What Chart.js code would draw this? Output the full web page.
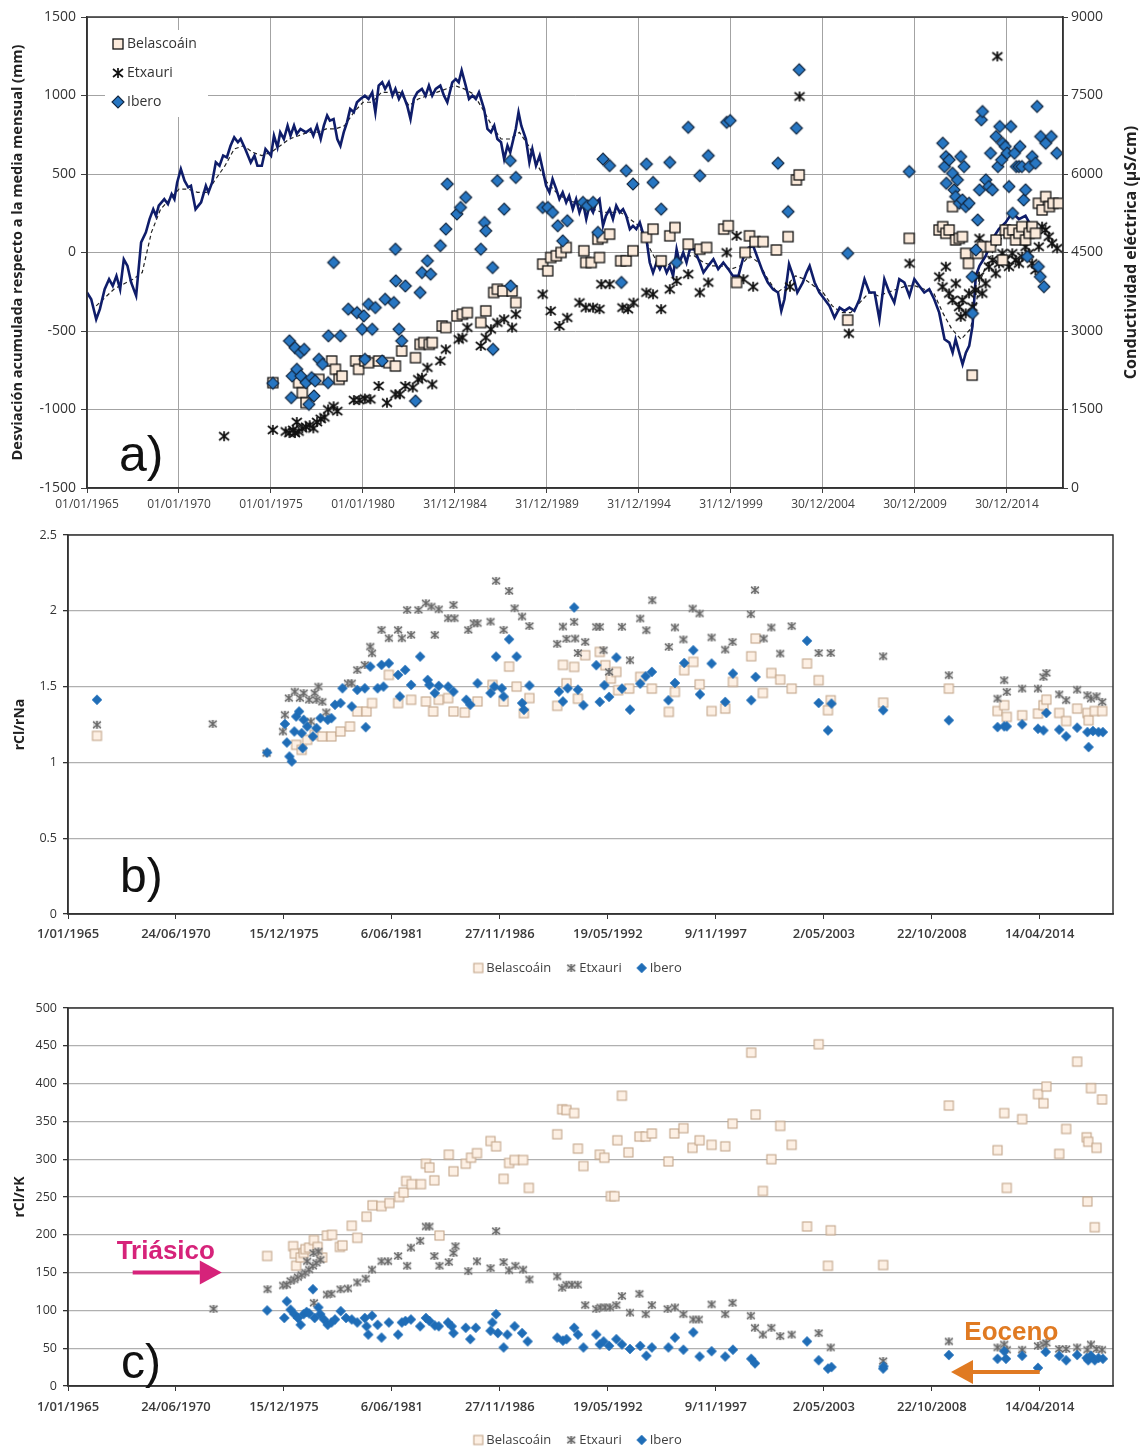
<!DOCTYPE html>
<html>
<head>
<meta charset="utf-8">
<title>Belascoáin, Etxauri, Ibero</title>
<script src="https://cdn.jsdelivr.net/npm/chart.js@4.4.1/dist/chart.umd.min.js"></script>
<style>
  body { margin: 0; background: #fff; width: 1145px; height: 1447px; overflow: hidden; position: relative; }
  canvas { position: absolute; left: 0; }
  #chartA { top: 0; }
  #chartB { top: 520px; }
  #chartC { top: 985px; }
</style>
</head>
<body>
<canvas id="chartA" width="1145" height="520"></canvas>
<canvas id="chartB" width="1145" height="465"></canvas>
<canvas id="chartC" width="1145" height="462"></canvas>
<script>
// ================================
//   DATI (anno decimale, valore)
// ================================

// a) desviación acumulada (mm) - línea continua
const devCum = [
  [1965.0,-255],[1965.23,-298],[1965.5,-425],[1965.7,-361],[1965.96,-234],[1966.2,-170],[1966.4,-213],[1966.6,-149],
  [1966.8,-234],[1967.0,-43],[1967.2,-85],[1967.4,-191],[1967.67,-276],[1967.94,64],[1968.2,128],[1968.4,213],
  [1968.6,276],[1968.75,234],[1968.9,298],[1969.2,340],[1969.4,308],[1969.6,372],[1969.75,340],[1969.9,446],
  [1970.1,531],[1970.3,457],[1970.5,415],[1970.65,425],[1970.9,276],[1971.2,319],[1971.46,425],[1971.6,383],
  [1971.8,446],[1972.0,574],[1972.2,553],[1972.4,617],[1972.6,606],[1972.8,680],[1973.0,733],[1973.2,702],
  [1973.35,723],[1973.6,659],[1973.9,574],[1974.1,617],[1974.26,553],[1974.5,553],[1974.7,659],[1975.0,617],
  [1975.16,744],[1975.35,670],[1975.5,765],[1975.7,723],[1975.9,808],[1976.06,744],[1976.25,808],[1976.4,755],
  [1976.6,787],[1976.9,765],[1977.15,787],[1977.3,744],[1977.5,808],[1977.7,723],[1977.87,808],[1978.05,872],
  [1978.2,840],[1978.4,850],[1978.6,723],[1978.77,680],[1978.95,765],[1979.13,829],[1979.3,914],[1979.5,893],
  [1979.67,957],[1979.86,978],[1980.1,999],[1980.3,978],[1980.5,1020],[1980.67,893],[1980.85,1063],[1981.04,1084],
  [1981.2,1042],[1981.4,1084],[1981.6,999],[1981.76,1042],[1981.95,978],[1982.13,1020],[1982.4,935],[1982.58,850],
  [1982.76,978],[1982.95,1020],[1983.2,1042],[1983.4,999],[1983.58,1063],[1983.76,999],[1983.95,1042],[1984.2,1063],
  [1984.4,999],[1984.58,957],[1984.85,1084],[1985.04,1105],[1985.2,1084],[1985.36,1159],[1985.58,1063],[1985.76,978],
  [1985.95,999],[1986.13,978],[1986.3,1020],[1986.58,914],[1986.76,787],[1986.95,765],[1987.13,808],[1987.3,723],
  [1987.5,702],[1987.67,595],[1987.85,680],[1988.0,638],[1988.3,787],[1988.45,893],[1988.6,808],[1988.85,723],
  [1989.04,574],[1989.2,659],[1989.4,553],[1989.6,617],[1989.76,531],[1989.95,425],[1990.13,383],[1990.3,468],
  [1990.5,404],[1990.67,340],[1990.85,383],[1991.04,319],[1991.2,361],[1991.4,276],[1991.58,340],[1991.76,255],
  [1991.95,319],[1992.13,213],[1992.3,298],[1992.5,255],[1992.67,319],[1992.85,340],[1993.04,170],[1993.2,234],
  [1993.4,276],[1993.58,213],[1993.76,298],[1993.95,255],[1994.13,276],[1994.3,234],[1994.5,149],[1994.67,170],
  [1994.85,149],[1995.04,191],[1995.2,128],[1995.4,85],[1995.58,-64],[1995.76,-128],[1995.95,-64],[1996.13,-106],
  [1996.3,-64],[1996.5,-128],[1996.67,-85],[1996.85,-149],[1997.04,21],[1997.2,-64],[1997.4,0],[1997.58,-64],
  [1997.76,21],[1998.0,21],[1998.3,-64],[1998.5,-128],[1998.76,-85],[1999.04,-43],[1999.3,-106],[1999.58,-64],
  [1999.85,-106],[2000.1,-149],[2000.4,-149],[2000.67,-30],[2000.95,30],[2001.2,43],[2001.47,-43],[2001.74,-128],
  [2002.0,-191],[2002.28,-234],[2002.55,-255],[2002.73,-372],[2002.9,-298],[2003.15,-74],[2003.37,-149],[2003.6,-255],
  [2003.9,-191],[2004.1,-128],[2004.27,-85],[2004.54,-191],[2004.8,-255],[2005.08,-298],[2005.35,-340],[2005.62,-415],
  [2005.9,-351],[2006.16,-372],[2006.43,-351],[2006.7,-372],[2006.98,-298],[2007.25,-170],[2007.52,-255],[2007.8,-255],
  [2008.06,-425],[2008.33,-170],[2008.6,-255],[2008.87,-319],[2009.14,-170],[2009.42,-191],[2009.69,-276],[2009.96,-170],
  [2010.23,-213],[2010.5,-255],[2010.77,-234],[2011.04,-298],[2011.31,-383],[2011.6,-553],[2011.86,-574],[2012.04,-638],
  [2012.2,-553],[2012.4,-638],[2012.58,-712],[2012.76,-638],[2012.94,-595],[2013.12,-468],[2013.3,-149],[2013.5,-85],
  [2013.84,-21],[2014.2,85],[2014.55,149],[2014.92,191],[2015.28,255],[2015.64,213],[2016.0,234],[2016.3,170],[2016.6,120]
];

// a) desviación acumulada suavizada - línea discontinua
const devSmooth = [
  [1965.5,-340],[1966.5,-230],[1967.5,-170],[1968.0,-128],[1968.5,128],[1969.0,276],[1969.5,340],[1970.0,404],
  [1970.5,404],[1971.0,383],[1971.5,383],[1972.0,468],[1972.5,553],[1973.0,659],[1973.5,680],[1974.0,638],
  [1974.5,617],[1975.0,638],[1975.5,680],[1976.0,723],[1976.5,744],[1977.0,765],[1977.5,765],[1978.0,787],
  [1978.5,787],[1979.0,808],[1979.5,893],[1980.0,957],[1980.5,957],[1981.0,1020],[1982.0,1020],[1982.5,935],
  [1983.0,978],[1984.0,1020],[1985.0,1063],[1985.5,1042],[1986.0,1010],[1986.5,914],[1987.0,808],[1987.5,723],
  [1988.0,723],[1988.5,765],[1989.0,680],[1989.5,553],[1990.0,446],[1990.5,383],[1991.0,340],[1991.5,319],
  [1992.0,298],[1992.5,276],[1993.0,255],[1993.5,255],[1994.0,255],[1994.5,213],[1995.0,170],[1995.5,43],
  [1996.0,-64],[1996.5,-85],[1997.0,-43],[1997.5,-21],[1998.0,-21],[1998.5,-64],[1999.0,-85],[1999.5,-85],
  [2000.0,-106],[2000.5,-85],[2001.0,-21],[2001.5,-64],[2002.0,-170],[2002.5,-255],[2003.0,-213],[2003.5,-149],
  [2004.0,-170],[2004.5,-213],[2005.0,-255],[2005.5,-340],[2006.0,-383],[2006.5,-383],[2007.0,-319],[2007.5,-255],
  [2008.0,-276],[2008.5,-255],[2009.0,-234],[2009.5,-213],[2010.0,-213],[2010.5,-234],[2011.0,-255],[2011.5,-383],
  [2012.0,-489],[2012.5,-553],[2013.0,-489],[2013.3,-340],[2013.5,-191],[2014.0,-43],[2014.5,64],[2015.0,128],
  [2015.5,170],[2016.0,190]
];

// a) conductividad eléctrica (µS/cm)
const condBelascoain = [
  [1975.1,2013],[1976.5,2013],[1976.7,1821],[1976.9,1629],[1977.6,2076],[1978.3,2427],[1978.5,2268],[1978.7,2076],
  [1978.86,2139],[1979.6,2427],[1979.76,2268],[1980.1,2427],[1980.3,2394],[1980.85,2427],[1981.4,2394],[1981.76,2331],
  [1982.1,2619],[1982.85,2490],[1983.1,2745],[1983.3,2778],[1983.6,2745],[1983.76,2778],[1984.3,3096],[1984.5,3066],
  [1985.1,3288],[1985.4,3321],[1985.67,3351],[1986.4,3162],[1986.67,3384],[1987.1,3735],[1987.3,3798],[1987.6,3765],
  [1988.1,3765],[1988.3,3543],[1989.76,4278],[1990.04,4149],[1990.2,4404],[1990.5,4437],[1990.76,4500],[1991.04,4596],
  [1992.0,4533],[1992.1,4308],[1992.4,4308],[1992.76,4755],[1992.85,4404],[1993.0,4788],[1993.4,4851],[1994.0,4341],
  [1994.3,4341],[1994.67,4533],[1995.4,4788],[1995.76,4947],[1996.2,4341],[1996.67,4818],[1996.95,4977],[1997.67,4659],
  [1998.3,4563],[1998.67,4596],[1999.6,4947],[1999.85,5010],[2000.3,3927],[2000.76,4500],[2001.0,4818],[2001.3,4707],
  [2001.74,4707],[2002.46,4548],[2003.1,4803],[2003.55,5887],[2003.7,5983],[2006.34,3208],[2009.68,4771],[2011.3,4930],
  [2011.5,4994],[2011.67,4867],[2011.85,4930],[2012.03,5377],[2012.2,4739],[2012.4,4771],[2012.57,4803],[2012.75,4484],
  [2012.9,4292],[2013.1,2156],[2013.4,4484],[2013.66,4612],[2014.1,4612],[2014.4,4739],[2014.75,4356],[2014.9,4930],
  [2015.1,4867],[2015.3,4930],[2015.46,4739],[2015.64,4867],[2015.8,4994],[2016.0,4739],[2016.2,4867],[2016.36,4994],
  [2016.54,4867],[2016.7,5441],[2016.9,5313],[2017.1,5568],[2017.3,5377],[2017.5,5441],[2017.8,5441]
];
const condEtxauri = [
  [1972.45,990],[1975.1,1110],[1975.8,1080],[1976.0,1050],[1976.2,1110],[1976.3,1050],[1976.4,1260],[1976.5,1080],
  [1976.7,1140],[1976.9,1170],[1977.1,1200],[1977.3,1140],[1977.5,1260],[1977.7,1320],[1977.9,1350],[1978.1,1500],
  [1978.4,1560],[1978.6,1470],[1979.5,1680],[1979.8,1680],[1980.1,1710],[1980.4,1695],[1980.85,1950],[1981.3,1629],
  [1981.76,1791],[1982.0,1791],[1982.3,1950],[1982.7,1920],[1983.0,2076],[1983.2,2109],[1983.5,2301],[1983.76,1980],
  [1984.2,2430],[1984.5,2649],[1985.2,2841],[1985.4,2874],[1985.67,3066],[1986.4,2715],[1986.67,2874],[1986.95,3033],
  [1987.3,3162],[1987.67,3225],[1988.1,3066],[1988.3,3321],[1989.76,3702],[1990.2,3384],[1990.67,3096],[1991.1,3255],
  [1991.76,3543],[1992.1,3447],[1992.5,3447],[1992.85,3417],[1992.95,3894],[1993.4,3894],[1994.1,3447],[1994.4,3417],
  [1994.7,3543],[1995.4,3735],[1995.76,3702],[1996.2,3417],[1996.67,3798],[1997.04,3957],[1997.67,4086],[1998.3,3735],
  [1998.76,3927],[1999.76,4500],[2000.3,4818],[2000.67,3990],[2001.2,3846],[2003.2,3846],[2003.72,7481],[2006.4,2953],
  [2009.7,4292],[2011.31,4037],[2011.49,3846],[2011.67,4229],[2011.85,3718],[2012.03,3591],[2012.21,3910],[2012.39,3463],
  [2012.48,3272],[2012.57,3591],[2012.75,3336],[2012.93,3718],[2013.11,3463],[2013.29,3782],[2013.47,4037],[2013.5,4771],
  [2013.65,3718],[2013.83,3910],[2014.01,4229],[2014.2,4356],[2014.38,4101],[2014.47,8247],[2014.56,4292],[2014.74,4484],
  [2014.92,4356],[2015.1,4229],[2015.28,4484],[2015.46,4356],[2015.64,4292],[2015.82,4420],[2016.0,4611],[2016.18,4484],
  [2016.36,4292],[2016.54,4165],[2016.72,4611],[2016.9,4994],[2017.08,4930],[2017.26,4803],[2017.44,4675],[2017.72,4579]
];
const condIbero = [
  [1975.1,2001],[1976.0,2811],[1976.15,2139],[1976.1,1725],[1976.3,2682],[1976.4,2268],[1976.6,2586],[1976.62,2139],
  [1976.8,2649],[1976.9,2013],[1977.06,1599],[1977.2,2109],[1977.33,1758],[1977.4,2046],[1977.6,2460],[1977.8,2364],
  [1978.1,2013],[1978.12,2907],[1978.4,4308],[1978.77,2907],[1979.2,3417],[1979.67,3351],[1979.95,3033],[1980.04,3288],
  [1980.1,2460],[1980.3,3510],[1980.5,3033],[1980.67,3447],[1981.04,2427],[1981.2,3606],[1981.67,3543],[1981.76,4563],
  [1981.78,3957],[1981.95,3033],[1982.1,2811],[1982.3,3861],[1982.85,1662],[1983.1,3735],[1983.2,4116],[1983.5,4341],
  [1983.67,4086],[1984.2,4629],[1984.5,4947],[1984.58,5808],[1985.1,5235],[1985.3,5361],[1985.58,5553],[1986.4,4563],
  [1986.6,5073],[1986.67,4914],[1987.04,4212],[1987.06,2649],[1987.3,5871],[1987.67,5328],[1988.0,6255],[1988.3,5934],
  [1988.02,3861],[1989.76,5361],[1990.04,5361],[1990.3,5265],[1990.58,5010],[1990.85,4722],[1991.1,5106],[1991.95,5457],
  [1992.2,5394],[1992.5,5457],[1992.76,4884],[1993.04,6285],[1993.4,6159],[1994.04,3927],[1994.3,6063],[1994.67,5808],
  [1995.4,6189],[1995.76,5838],[1996.2,5328],[1996.67,6222],[1997.04,4308],[1997.67,6891],[1998.3,5967],[1998.76,6351],
  [1999.76,6987],[1999.95,7020],[2002.55,6206],[2003.1,5281],[2003.55,6876],[2003.7,7992],[2006.34,4484],[2009.68,6046],
  [2011.5,6588],[2011.6,6142],[2011.67,6333],[2011.7,5823],[2011.85,6269],[2012.03,6014],[2012.12,5696],[2012.2,5568],
  [2012.3,5887],[2012.4,5441],[2012.48,6333],[2012.57,5504],[2012.66,6142],[2012.75,5377],[2012.93,5441],[2013.1,4037],
  [2013.12,3336],[2013.3,4548],[2013.4,5122],[2013.5,5696],[2013.6,7035],[2013.66,7194],[2013.84,5887],[2014.0,5760],
  [2014.1,6397],[2014.2,5696],[2014.4,6716],[2014.5,6142],[2014.6,6907],[2014.7,6269],[2014.75,6588],[2014.9,6525],
  [2015.0,6397],[2015.1,5760],[2015.2,6907],[2015.3,5249],[2015.4,6397],[2015.5,6142],[2015.64,6142],[2015.7,6525],
  [2015.8,6142],[2015.9,5504],[2016.0,5696],[2016.1,4420],[2016.2,6142],[2016.36,6333],[2016.54,6206],[2016.63,7290],
  [2016.7,4229],[2016.8,4037],[2016.82,6716],[2017.0,3846],[2017.1,6588],[2017.4,6716],[2017.7,6397]
];

// b) rCl/rNa
const naBelascoain = [
  [1966.47,1.175],[1976.57,1.116],[1976.85,1.083],[1977.13,1.149],[1977.51,1.182],[1977.89,1.171],[1978.36,1.171],
  [1978.82,1.204],[1979.3,1.237],[1979.67,1.336],[1980.14,1.336],[1980.42,1.391],[1981.27,1.577],[1981.74,1.391],
  [1982.4,1.413],[1983.15,1.402],[1983.52,1.336],[1983.8,1.413],[1984.28,1.424],[1984.55,1.336],[1985.12,1.329],
  [1985.77,1.402],[1986.53,1.511],[1987.09,1.402],[1987.37,1.632],[1987.75,1.5],[1988.12,1.325],[1988.4,1.424],
  [1989.81,1.373],[1990.1,1.643],[1990.28,1.522],[1990.67,1.63],[1990.86,1.42],[1991.23,1.707],[1991.97,1.729],
  [1992.25,1.641],[1992.53,1.553],[1992.81,1.597],[1992.9,1.476],[1993.46,1.487],[1994.02,1.564],[1994.61,1.487],
  [1995.47,1.333],[1995.78,1.465],[1996.25,1.608],[1996.71,1.663],[1997.03,1.515],[1997.64,1.339],[1998.33,1.355],
  [1998.72,1.531],[1999.65,1.7],[1999.87,1.817],[2000.24,1.458],[2000.67,1.59],[2001.12,1.546],[2001.7,1.487],
  [2002.48,1.652],[2003.07,1.542],[2003.54,1.344],[2003.68,1.41],[2006.34,1.394],[2009.67,1.487],[2012.14,1.339],
  [2012.48,1.377],[2012.61,1.3],[2013.39,1.311],[2014.19,1.322],[2014.47,1.377],[2014.62,1.414],[2015.27,1.326],
  [2015.62,1.273],[2016.18,1.355],[2016.7,1.326],[2016.76,1.278],[2017.07,1.339],[2017.45,1.339]
];
const naEtxauri = [
  [1966.47,1.248],[1972.34,1.254],[1975.07,1.061],[1975.9,1.204],[1976.0,1.314],[1976.2,1.424],[1976.5,1.467],
  [1976.76,1.424],[1976.95,1.457],[1977.23,1.413],[1977.32,1.27],[1977.51,1.457],[1977.6,1.413],[1977.7,1.5],
  [1977.9,1.4],[1978.1,1.33],[1979.2,1.522],[1979.39,1.522],[1979.67,1.61],[1980.05,1.643],[1980.33,1.764],
  [1980.42,1.72],[1980.9,1.874],[1981.27,1.819],[1981.74,1.874],[1981.93,1.819],[1982.2,2.006],[1982.4,1.841],
  [1982.77,2.006],[1983.15,2.05],[1983.43,2.028],[1983.6,1.841],[1983.8,2.01],[1984.28,1.951],[1984.55,2.039],
  [1984.6,1.951],[1985.3,1.874],[1985.58,1.918],[1985.77,1.918],[1986.43,1.929],[1986.71,2.197],[1987.09,1.874],
  [1987.37,2.131],[1987.65,2.017],[1988.03,1.962],[1988.4,1.9],[1989.81,1.782],[1990.1,1.896],[1990.28,1.815],
  [1990.67,1.927],[1990.72,1.817],[1990.86,1.722],[1991.23,1.795],[1991.79,1.894],[1991.97,1.894],[1992.16,1.74],
  [1992.44,1.597],[1993.09,1.894],[1993.5,1.674],[1994.02,1.949],[1994.33,1.872],[1994.63,2.07],[1995.47,1.762],
  [1995.78,1.89],[1996.21,1.811],[1996.68,2.015],[1997.03,1.982],[1997.64,1.824],[1998.33,1.744],[1998.7,1.795],
  [1999.63,1.978],[1999.84,2.137],[2000.28,1.817],[2000.67,1.89],[2001.12,1.718],[2001.7,1.899],[2003.07,1.722],
  [2003.68,1.722],[2006.34,1.7],[2009.67,1.575],[2012.14,1.421],[2012.48,1.542],[2012.61,1.465],[2013.39,1.487],
  [2014.19,1.487],[2014.47,1.564],[2014.62,1.59],[2015.27,1.449],[2015.62,1.41],[2016.18,1.48],[2016.7,1.443],
  [2016.88,1.421],[2017.16,1.436],[2017.45,1.399]
];
const naIbero = [
  [1966.47,1.413],[1975.1,1.065],[1976.0,1.254],[1976.1,1.131],[1976.23,1.039],[1976.35,1.006],[1976.48,1.204],
  [1976.57,1.303],[1976.72,1.336],[1976.85,1.193],[1976.95,1.281],[1976.9,1.094],[1977.13,1.237],[1977.42,1.171],
  [1977.6,1.226],[1977.8,1.292],[1978.17,1.281],[1978.36,1.292],[1978.54,1.38],[1978.82,1.391],[1978.92,1.489],
  [1979.39,1.369],[1979.67,1.478],[1980.05,1.489],[1980.1,1.232],[1980.33,1.632],[1980.7,1.489],[1980.9,1.643],
  [1981.0,1.5],[1981.27,1.654],[1981.74,1.577],[1981.83,1.435],[1982.1,1.61],[1982.4,1.511],[1982.86,1.698],
  [1983.24,1.544],[1983.33,1.511],[1983.6,1.457],[1983.8,1.505],[1984.28,1.5],[1984.55,1.467],[1985.2,1.413],
  [1985.4,1.38],[1985.77,1.522],[1986.43,1.457],[1986.62,1.5],[1986.71,1.698],[1987.0,1.489],[1987.09,1.435],
  [1987.37,1.812],[1987.75,1.698],[1988.03,1.391],[1988.12,1.347],[1988.4,1.507],[1989.9,1.467],[1990.1,1.402],
  [1990.34,1.489],[1990.67,2.022],[1990.86,1.48],[1991.14,1.377],[1991.79,1.641],[1991.97,1.399],[1992.2,1.509],
  [1992.44,1.432],[1992.81,1.692],[1993.09,1.487],[1993.5,1.348],[1994.02,1.52],[1994.3,1.568],[1994.61,1.597],
  [1995.45,1.41],[1995.78,1.524],[1996.25,1.656],[1996.71,1.74],[1997.05,1.449],[1997.64,1.652],[1998.33,1.399],
  [1998.72,1.586],[1999.65,1.41],[1999.87,1.564],[2002.48,1.802],[2003.07,1.392],[2003.54,1.211],[2003.72,1.388],
  [2006.34,1.344],[2009.67,1.278],[2012.14,1.233],[2012.48,1.238],[2012.61,1.238],[2013.39,1.251],[2014.19,1.222],
  [2014.47,1.211],[2014.62,1.326],[2015.27,1.216],[2015.62,1.172],[2016.18,1.229],[2016.7,1.2],[2016.76,1.101],
  [2016.98,1.207],[2017.26,1.2],[2017.48,1.2]
];

// c) rCl/rK
const kBelascoain = [
  [1975.1,172],[1976.42,185],[1976.5,175],[1976.57,159],[1976.8,170],[1976.95,176],[1977.04,181],[1977.23,183],
  [1977.47,193],[1977.66,184],[1977.89,170],[1978.13,199],[1978.39,200],[1978.79,184],[1978.92,186],[1979.39,212],
  [1979.67,196],[1980.14,224],[1980.44,239],[1980.9,238],[1981.3,242],[1981.79,250],[1982.02,256],[1982.15,271],
  [1982.43,267],[1982.9,267],[1983.15,294],[1983.33,289],[1983.58,272],[1983.84,199],[1984.31,306],[1984.55,284],
  [1985.17,294],[1985.44,302],[1985.74,308],[1986.43,324],[1986.71,317],[1987.09,274],[1987.37,295],[1987.65,299],
  [1988.08,299],[1988.37,262],[1989.81,333],[1990.06,366],[1990.28,365],[1990.67,361],[1990.86,314],[1991.14,291],
  [1991.97,306],[1992.2,302],[1992.53,251],[1992.71,251],[1992.86,325],[1993.09,384],[1993.42,309],[1993.98,330],
  [1994.3,330],[1994.61,334],[1995.45,297],[1995.75,334],[1996.21,341],[1996.67,315],[1997.03,325],[1997.64,319],
  [1998.33,317],[1998.7,347],[1999.65,441],[1999.87,359],[2000.24,258],[2000.67,300],[2001.12,344],[2001.7,319],
  [2002.48,211],[2003.07,452],[2003.54,159],[2003.68,206],[2006.34,160],[2009.67,371],[2012.14,312],[2012.48,361],
  [2012.61,262],[2013.39,353],[2014.19,386],[2014.47,374],[2014.62,396],[2015.27,307],[2015.62,340],[2016.18,429],
  [2016.66,329],[2016.74,323],[2016.7,244],[2016.88,394],[2017.07,210],[2017.16,315],[2017.44,379]
];
const kEtxauri = [
  [1972.38,102],[1975.12,128],[1975.91,133],[1976.1,134],[1976.29,139],[1976.48,141],[1976.66,144],[1976.85,147],
  [1977.04,150],[1977.13,165],[1977.23,154],[1977.42,159],[1977.45,176],[1977.47,110],[1977.6,163],[1977.7,178],
  [1977.8,167],[1978.13,121],[1978.36,122],[1978.82,128],[1979.2,129],[1979.67,137],[1980.1,142],[1980.42,154],
  [1980.9,165],[1981.23,165],[1981.74,172],[1982.2,159],[1982.39,183],[1982.86,192],[1983.15,211],[1983.33,211],
  [1983.58,172],[1983.84,159],[1984.31,164],[1984.55,176],[1984.65,185],[1985.3,152],[1985.74,165],[1986.43,156],
  [1986.71,205],[1987.09,164],[1987.37,153],[1987.69,159],[1988.08,154],[1988.4,141],[1989.81,145],[1990.06,130],
  [1990.28,134],[1990.56,134],[1990.85,134],[1991.23,107],[1991.79,102],[1992.01,104],[1992.25,104],[1992.49,104],
  [1992.81,107],[1993.09,119],[1993.5,97],[1993.98,122],[1994.3,95],[1994.61,107],[1995.41,102],[1995.78,104],
  [1996.21,95],[1996.71,88],[1996.99,88],[1997.64,108],[1998.33,95],[1998.7,110],[1999.63,93],[1999.84,77],
  [2000.24,68],[2000.67,77],[2001.12,66],[2001.7,68],[2003.07,70],[2003.68,51],[2006.34,33],[2009.67,59],
  [2012.14,51],[2012.48,55],[2012.61,48],[2013.39,48],[2014.19,53],[2014.47,55],[2014.62,57],[2015.27,49],
  [2015.62,49],[2016.18,51],[2016.7,48],[2016.88,55],[2017.16,49],[2017.44,48]
];
const kIbero = [
  [1975.1,100],[1975.97,90],[1976.1,112],[1976.29,101],[1976.48,95],[1976.66,90],[1976.8,81],[1976.95,95],
  [1977.1,98],[1977.23,96],[1977.42,128],[1977.51,90],[1977.7,104],[1977.79,95],[1977.98,88],[1978.17,81],
  [1978.36,84],[1978.54,88],[1978.83,99],[1979.1,90],[1979.39,88],[1979.67,84],[1980.05,90],[1980.14,79],
  [1980.23,68],[1980.42,93],[1980.7,81],[1980.9,64],[1981.27,84],[1981.74,68],[1981.93,84],[1982.11,86],
  [1982.39,88],[1982.86,79],[1983.15,90],[1983.33,86],[1983.6,80],[1983.8,79],[1984.27,84],[1984.46,79],
  [1984.55,70],[1985.17,77],[1985.4,62],[1985.68,77],[1986.43,73],[1986.52,84],[1986.71,95],[1986.8,70],
  [1987.09,51],[1987.28,68],[1987.65,79],[1988.03,70],[1988.31,59],[1989.81,64],[1990.1,60],[1990.28,62],
  [1990.67,77],[1990.86,68],[1991.14,51],[1991.79,68],[1991.97,55],[1992.16,59],[1992.44,53],[1992.81,62],
  [1993.09,55],[1993.5,49],[1994.02,53],[1994.33,40],[1994.61,51],[1995.45,51],[1995.78,64],[1996.21,48],
  [1996.71,71],[1997.03,39],[1997.64,46],[1998.33,39],[1998.72,48],[1999.65,36],[1999.84,30],[2002.48,59],
  [2003.07,34],[2003.54,23],[2003.72,25],[2006.34,23],[2006.36,26],[2009.67,41],[2012.14,36],[2012.48,46],
  [2012.57,36],[2013.39,40],[2014.19,24],[2014.58,45],[2015.27,40],[2015.62,34],[2016.18,41],[2016.66,37],
  [2016.74,34],[2016.88,40],[2017.07,34],[2017.26,37],[2017.48,36]
];

// assi: date seriali Excel
const X_START = 23743;          // 01/01/1965
const X_END_A = 43115;
const X_END_BC = 43100;
const STEP_A = 1826;            // ~5 anni
const STEP_BC = 2000;           // 2000 giorni
const LEGEND_ORDER = ["Belascoáin", "Etxauri", "Ibero"];

// ================================
//   UTILITIES
// ================================
const FONT = "'Open Sans', 'DejaVu Sans', sans-serif";
Chart.defaults.font.family = FONT;
Chart.defaults.color = "#333";

const toSerial = yr => X_START + (yr - 1965) * 365.25;
const pts = arr => arr.map(([yr, v]) => ({ x: toSerial(yr), y: v }));

function fmtDate(serial, padDay) {
  const d = new Date(Date.UTC(1899, 11, 30) + Math.round(serial) * 86400000);
  const dd = d.getUTCDate();
  const mm = String(d.getUTCMonth() + 1).padStart(2, "0");
  return (padDay ? String(dd).padStart(2, "0") : dd) + "/" + mm + "/" + d.getUTCFullYear();
}

function ticksEvery(step, end) {
  return scale => {
    const t = [];
    for (let v = X_START; v <= end; v += step) t.push({ value: v });
    scale.ticks = t;
  };
}

function makeMarker(kind, size, fill, stroke, lw) {
  const pad = Math.ceil(lw) + 1;
  const c = document.createElement("canvas");
  c.width = c.height = size + pad * 2;
  const g = c.getContext("2d");
  const m = c.width / 2, h = size / 2;
  g.lineWidth = lw;
  g.strokeStyle = stroke;
  g.fillStyle = fill;
  if (kind === "square") {
    g.fillRect(m - h, m - h, size, size);
    if (lw) g.strokeRect(m - h, m - h, size, size);
  } else if (kind === "diamond") {
    g.beginPath();
    g.moveTo(m, m - h); g.lineTo(m + h, m); g.lineTo(m, m + h); g.lineTo(m - h, m);
    g.closePath();
    g.fill();
    if (lw) g.stroke();
  } else {
    // asterisco stile Excel: X + barra verticale
    if (fill) g.fillRect(m - h, m - h, size, size);
    g.beginPath();
    g.moveTo(m - h, m - h * 0.8); g.lineTo(m + h, m + h * 0.8);
    g.moveTo(m + h, m - h * 0.8); g.lineTo(m - h, m + h * 0.8);
    g.moveTo(m, m - h); g.lineTo(m, m + h);
    g.stroke();
  }
  return c;
}

// marker pannello a)
const sqA = makeMarker("square", 10, "#fbeadb", "#111", 1.3);
const stA = makeMarker("star", 10, null, "#111", 1.7);
const diA = makeMarker("diamond", 12, "#2776c2", "#12263f", 1.1);
// marker pannelli b) c)
const sqB = makeMarker("square", 9, "#fdf0e4", "#c4a68a", 1.1);
const stB = makeMarker("star", 8, "rgba(185,185,185,0.5)", "#666", 1.4);
const diB = makeMarker("diamond", 10, "#1f6db7", "#1f6db7", 0.5);

function arrow(ctx, x1, x2, y, color, lw, headL, headH) {
  const dir = Math.sign(x2 - x1);
  ctx.strokeStyle = color;
  ctx.fillStyle = color;
  ctx.lineWidth = lw;
  ctx.beginPath();
  ctx.moveTo(x1, y);
  ctx.lineTo(x2 - dir * headL, y);
  ctx.stroke();
  ctx.beginPath();
  ctx.moveTo(x2, y);
  ctx.lineTo(x2 - dir * headL, y - headH);
  ctx.lineTo(x2 - dir * headL, y + headH);
  ctx.closePath();
  ctx.fill();
}

function drawLegendRow(chart, cx, y) {
  const ctx = chart.ctx;
  ctx.font = "13px " + FONT;
  ctx.fillStyle = "#404040";
  ctx.textBaseline = "middle";
  const items = LEGEND_ORDER.map(l => chart.data.datasets.find(d => d.label === l));
  const widths = items.map(d => 12 + ctx.measureText(d.label).width);
  const gap = 16;
  let x = cx - (widths.reduce((a, b) => a + b, 0) + gap * (items.length - 1)) / 2;
  items.forEach((d, i) => {
    const m = d.pointStyle;
    ctx.drawImage(m, x + 4 - m.width / 2, y - m.height / 2);
    ctx.fillText(d.label, x + 12, y);
    x += widths[i] + gap;
  });
}

function decor(frameColor, draw) {
  return {
    id: "decor",
    afterDraw(chart) {
      const { ctx, chartArea: ca } = chart;
      ctx.save();
      ctx.strokeStyle = frameColor;
      ctx.lineWidth = 1.5;
      ctx.strokeRect(ca.left, ca.top, ca.right - ca.left, ca.bottom - ca.top);
      draw(chart, ctx);
      ctx.restore();
    }
  };
}

const baseOpts = {
  responsive: false,
  animation: false,
  events: [],
  devicePixelRatio: 1,
  plugins: { legend: { display: false }, tooltip: { enabled: false } }
};

// ================================
//   PANNELLO a)
// ================================
new Chart(document.getElementById("chartA"), {
  type: "scatter",
  data: {
    datasets: [
      { label: "Ibero", data: pts(condIbero), yAxisID: "y1", pointStyle: diA, pointRadius: 6 },
      { label: "Belascoáin", data: pts(condBelascoain), yAxisID: "y1", pointStyle: sqA, pointRadius: 6 },
      { label: "Etxauri", data: pts(condEtxauri), yAxisID: "y1", pointStyle: stA, pointRadius: 6 },
      { label: "dev", data: pts(devCum), yAxisID: "y", showLine: true, pointRadius: 0,
        borderColor: "#0f1d6a", borderWidth: 2.6, tension: 0 },
      { label: "devMedia", data: pts(devSmooth), yAxisID: "y", showLine: true, pointRadius: 0,
        borderColor: "#222", borderWidth: 1.2, borderDash: [4, 3], tension: 0 }
    ]
  },
  options: {
    ...baseOpts,
    layout: { padding: { top: 17, left: 0, right: 0, bottom: 0 } },
    scales: {
      x: {
        type: "linear", min: X_START, max: X_END_A,
        afterBuildTicks: ticksEvery(STEP_A, X_END_A),
        afterFit: s => { s.height = 32; },
        ticks: { callback: v => fmtDate(v, true), autoSkip: false, maxRotation: 0, padding: 4,
                 font: { size: 12 }, color: "#404040" },
        grid: { color: "#a3a3a3", lineWidth: 1, tickLength: 5, tickColor: "#404040" },
        border: { color: "#333", width: 1.5 }
      },
      y: {
        position: "left", min: -1500, max: 1500,
        afterFit: s => { s.width = 87; },
        ticks: { stepSize: 500, callback: v => String(v), font: { size: 14 }, color: "#333", padding: 5 },
        grid: { color: "#a3a3a3", lineWidth: 1, tickLength: 6, tickColor: "#404040" },
        border: { color: "#333", width: 1.5 },
        title: { display: true, text: "Desviación acumulada respecto a la media mensual (mm)",
                 font: { size: 14.5, weight: "bold" }, color: "#222", padding: { top: 9, bottom: 0 } }
      },
      y1: {
        position: "right", min: 0, max: 9000,
        afterFit: s => { s.width = 82; },
        ticks: { stepSize: 1500, callback: v => String(v), font: { size: 14 }, color: "#333", padding: 3 },
        grid: { drawOnChartArea: false, tickLength: 5, tickColor: "#404040" },
        border: { color: "#333", width: 1.5 }
      }
    }
  },
  plugins: [decor("#333", (chart, ctx) => {
    const ca = chart.chartArea;
    // titolo asse destro (letto dal basso verso l'alto)
    ctx.save();
    ctx.translate(1131, (ca.top + ca.bottom) / 2);
    ctx.rotate(-Math.PI / 2);
    ctx.font = "bold 16px " + FONT;
    ctx.fillStyle = "#222";
    ctx.textAlign = "center";
    ctx.textBaseline = "middle";
    ctx.fillText("Conductividad eléctrica (µS/cm)", 0, 0);
    ctx.restore();

    // legenda interna
    ctx.fillStyle = "#fff";
    ctx.fillRect(105, 30, 103, 87);
    ctx.font = "14px " + FONT;
    ctx.textBaseline = "middle";
    LEGEND_ORDER.forEach((l, i) => {
      const d = chart.data.datasets.find(s => s.label === l);
      const m = d.pointStyle, y = 44 + i * 29;
      ctx.drawImage(m, 118 - m.width / 2, y - m.height / 2);
      ctx.fillStyle = "#333";
      ctx.fillText(l, 127, y);
    });
    ctx.fillStyle = "#111";
    ctx.font = "50px 'Liberation Sans', Arial, sans-serif";
    ctx.textBaseline = "alphabetic";
    ctx.fillText("a)", 119, 471);
  })]
});

// ================================
//   PANNELLI b) e c)
// ================================
function ratioChart(id, title, sets, yMax, yStep, layout, draw) {
  return new Chart(document.getElementById(id), {
    type: "scatter",
    data: {
      datasets: [
        { label: "Ibero", data: pts(sets[2]), pointStyle: diB, pointRadius: 5 },
        { label: "Etxauri", data: pts(sets[1]), pointStyle: stB, pointRadius: 5 },
        { label: "Belascoáin", data: pts(sets[0]), pointStyle: sqB, pointRadius: 5 }
      ]
    },
    options: {
      ...baseOpts,
      layout: { padding: { top: layout.top, left: 0, right: 32, bottom: 0 } },
      scales: {
        x: {
          type: "linear", min: X_START, max: X_END_BC,
          afterBuildTicks: ticksEvery(STEP_BC, X_END_BC),
          afterFit: s => { s.height = layout.xh; },
          ticks: { callback: v => fmtDate(v, false), autoSkip: false, maxRotation: 0, padding: layout.xpad,
                   font: { size: 13, weight: "600" }, color: "#3a3a3a" },
          grid: { drawOnChartArea: false, tickLength: 5, tickColor: "#333" },
          border: { color: "#333", width: 1.5 }
        },
        y: {
          min: 0, max: yMax,
          afterFit: s => { s.width = 68; },
          ticks: { stepSize: yStep, callback: v => String(v), font: { size: 12.5 }, color: "#333", padding: 6 },
          grid: { color: "#b0b0b0", lineWidth: 1.3, tickLength: 5, tickColor: "#333" },
          border: { color: "#333", width: 1.5 },
          title: { display: true, text: title, font: { size: 14, weight: "bold" }, color: "#222",
                   padding: { top: 12, bottom: 0 } }
        }
      }
    },
    plugins: [decor("#333", (chart, ctx) => {
      drawLegendRow(chart, 578, layout.legendY);
      draw(chart, ctx);
    })]
  });
}

ratioChart("chartB", "rCl/rNa", [naBelascoain, naEtxauri, naIbero], 2.5, 0.5,
  { top: 15, xh: 71, xpad: 7, legendY: 448 },
  (chart, ctx) => {
    ctx.fillStyle = "#111";
    ctx.font = "48px 'Liberation Sans', Arial, sans-serif";
    ctx.textBaseline = "alphabetic";
    ctx.fillText("b)", 120, 372);
  });

ratioChart("chartC", "rCl/rK", [kBelascoain, kEtxauri, kIbero], 500, 50,
  { top: 23, xh: 61, xpad: 8, legendY: 455 },
  (chart, ctx) => {
    const sx = chart.scales.x, sy = chart.scales.y;
    ctx.fillStyle = "#111";
    ctx.font = "48px 'Liberation Sans', Arial, sans-serif";
    ctx.textBaseline = "alphabetic";
    ctx.fillText("c)", 121, 393);

    // Triásico
    ctx.font = "bold 26px 'Liberation Sans', Arial, sans-serif";
    ctx.textAlign = "center";
    ctx.fillStyle = "#d6237a";
    ctx.fillText("Triásico", sx.getPixelForValue(toSerial(1969.96)), sy.getPixelForValue(168));
    arrow(ctx, sx.getPixelForValue(toSerial(1968.28)), sx.getPixelForValue(toSerial(1972.8)),
          sy.getPixelForValue(150), "#d6237a", 4, 22, 12);

    // Eoceno
    ctx.fillStyle = "#e07a22";
    ctx.fillText("Eoceno", sx.getPixelForValue(toSerial(2012.84)), sy.getPixelForValue(61));
    arrow(ctx, sx.getPixelForValue(toSerial(2014.28)), sx.getPixelForValue(toSerial(2009.78)),
          sy.getPixelForValue(18.5), "#e07a22", 4, 22, 12);
  });
</script>
</body>
</html>
